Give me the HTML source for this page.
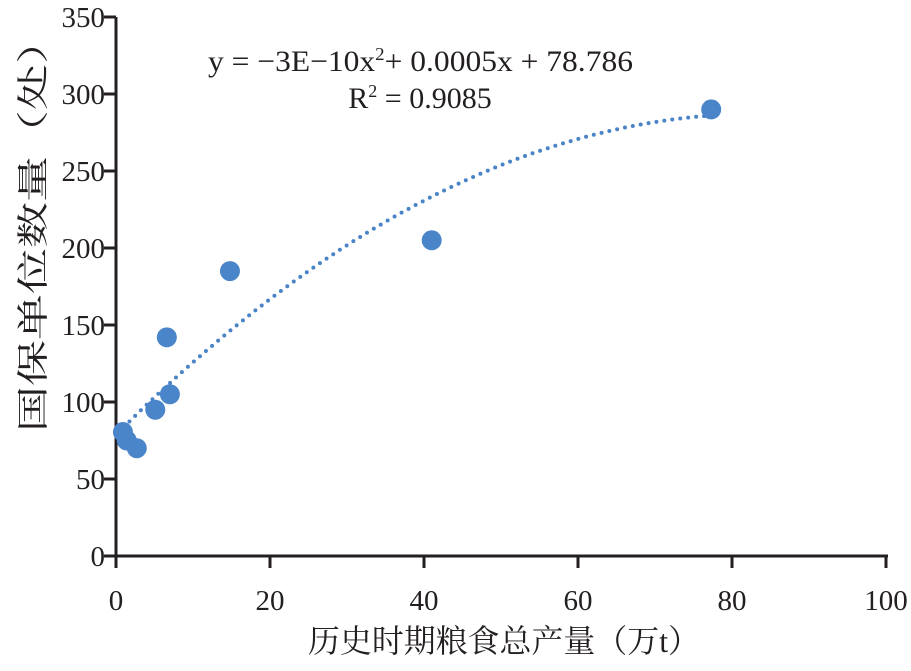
<!DOCTYPE html>
<html><head><meta charset="utf-8"><style>
body{margin:0;background:#fff}
svg text{font-family:"Liberation Serif","Noto Serif CJK SC",serif;fill:#231f20}
</style></head><body>
<svg id="chart" width="911" height="666" xmlns="http://www.w3.org/2000/svg">
<g id="axes"></g><g id="trend"></g><g id="pts"></g>
<text x="208" y="71" font-size="30" textLength="425" lengthAdjust="spacingAndGlyphs">y = −3E−10x<tspan font-size="18" dy="-11">2</tspan><tspan dy="11">+ 0.0005x + 78.786</tspan></text>
<text x="420" y="108" font-size="30" text-anchor="middle">R<tspan font-size="18" dy="-11">2</tspan><tspan dy="11"> = 0.9085</tspan></text>
<text x="308" y="652" font-size="32" textLength="392" lengthAdjust="spacingAndGlyphs">历史时期粮食总产量（万t）</text>
<text transform="translate(44,432) rotate(-90)" font-size="32" textLength="414" lengthAdjust="spacingAndGlyphs">国保单位数量（处）</text>
</svg>
<script>
const xVals=[0.9,1.4,2.7,5.1,6.6,7.0,14.8,41,77.3];
const yVals=[80.5,75,70,95,142,105,185,205,290];
const xTicks=[0,20,40,60,80,100];
const yTicks=[0,50,100,150,200,250,300,350];
const trendCoef=[-3e-10,0.0005,78.786];
const trendRange=[1,77];
const X=v=>116+v*7.7, Y=v=>556-v*1.54;
const NS="http://www.w3.org/2000/svg";
function mk(t,a,p){const e=document.createElementNS(NS,t);for(const k in a)e.setAttribute(k,a[k]);p.appendChild(e);return e;}
const ax=document.getElementById('axes');
let l=mk('line',{x1:116,y1:Y(350),x2:116,y2:568,stroke:'#231f20','stroke-width':3},ax);


l=mk('line',{x1:104,y1:556,x2:888,y2:556,stroke:'#231f20','stroke-width':3},ax);


yTicks.forEach(v=>{
 const t=mk('line',{x1:104,x2:116,y1:Y(v),y2:Y(v),stroke:'#231f20','stroke-width':3},ax);
 
 
 const s=mk('text',{x:105,y:Y(v)+10,'font-size':29,'text-anchor':'end'},ax);s.textContent=v;
 
 
});
xTicks.forEach(v=>{
 const t=mk('line',{x1:X(v),x2:X(v),y1:556,y2:568,stroke:'#231f20','stroke-width':3},ax);
 
 
 const s=mk('text',{x:X(v),y:610,'font-size':29,'text-anchor':'middle'},ax);s.textContent=v;
 
 
});
const tr=document.getElementById('trend');
let d='';
for(let i=0;i<=100;i++){const xv=trendRange[0]+(trendRange[1]-trendRange[0])*i/100;const xt=xv*10000;const yv=trendCoef[0]*xt*xt+trendCoef[1]*xt+trendCoef[2];d+=(i?'L':'M')+X(xv).toFixed(1)+','+Y(yv).toFixed(1);}
const tp=mk('path',{d:d,fill:'none',stroke:'#4a84c6','stroke-width':4,'stroke-linecap':'round','stroke-dasharray':'0 8'},tr);


const pg=document.getElementById('pts');
xVals.forEach((xv,i)=>{
 const c=mk('circle',{cx:X(xv),cy:Y(yVals[i]),r:10,fill:'#4a84c9'},pg);
 
 
});
</script>
</body></html>
